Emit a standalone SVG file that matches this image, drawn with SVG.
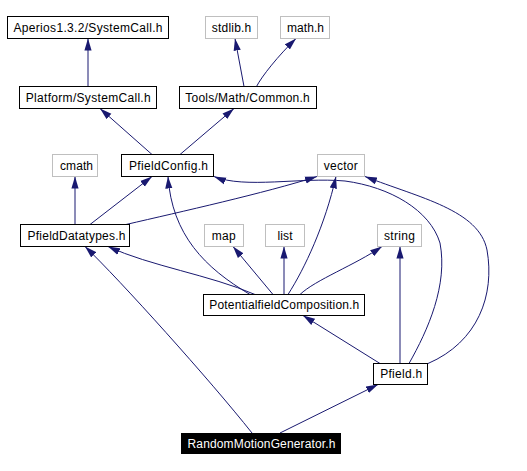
<svg xmlns="http://www.w3.org/2000/svg" width="527" height="471" viewBox="0 0 527 471">
<defs>
<marker id="arr" markerUnits="userSpaceOnUse" markerWidth="12" markerHeight="8" viewBox="0 0 12 8" refX="12" refY="4" orient="auto">
<path d="M0,0.4 L12,4 L0,7.6 z" fill="#191970"/>
</marker>
</defs>
<style>
.n rect{fill:#ffffff;stroke:#000000;stroke-width:1}
.g rect{fill:#ffffff;stroke:#bfbfbf;stroke-width:1}
.r rect{fill:#000000;stroke:#000000;stroke-width:1}
text{font-family:"Liberation Sans",Arial,Helvetica,sans-serif;font-size:12px;text-anchor:middle;fill:#000000}
.r text{fill:#ffffff}
#edges path{fill:none;stroke:#191970;stroke-width:1;marker-end:url(#arr)}
</style>
<rect width="527" height="471" fill="#ffffff"/>
<g id="edges">
<path d="M88,86.5 L88,38.5"/>
<path d="M244,86.5 L235,38.5"/>
<path d="M256.5,86.5 C262,76 278,56 296,38.5"/>
<path d="M152,154.5 L100,108.5"/>
<path d="M180,154.5 L234,108.5"/>
<path d="M75,224.5 L75,176.5"/>
<path d="M90,224.5 L152,176.5"/>
<path d="M126,224.5 C180,212 265,193 317,176.5"/>
<path d="M255,294.5 C210,275 150,266 108,246.5"/>
<path d="M250,294.5 C205,268 172,235 168,176.5"/>
<path d="M273,294.5 L233,246.5"/>
<path d="M284,294.5 L284,246.5"/>
<path d="M288,294.5 C305,268 325,225 336,176.5"/>
<path d="M300,294.5 C315,280 355,265 382,246.5"/>
<path d="M380,363.5 L303,315.5"/>
<path d="M400,363.5 L400,246.5"/>
<path d="M409,363.5 C428,330 448,285 440,243 C430,210 390,187 345,181 C300,177 245,189 214,176.5"/>
<path d="M428,363.5 C478,342 495,295 487,250 C479,210 420,198 365,176.5"/>
<path d="M252,433 C210,380 120,280 85,246.5"/>
<path d="M280,433 L378,384.5"/>
</g>
<g id="node-aperios" class="n"><rect x="7.5" y="16.5" width="161" height="22"/><text x="88" y="31.8" textLength="149" lengthAdjust="spacing">Aperios1.3.2/SystemCall.h</text></g>
<g id="node-stdlib" class="g"><rect x="205.5" y="16.5" width="52" height="22"/><text x="231.5" y="31.8" textLength="39.5" lengthAdjust="spacing">stdlib.h</text></g>
<g id="node-math" class="g"><rect x="280.5" y="16.5" width="49" height="22"/><text x="305.5" y="31.8" textLength="37" lengthAdjust="spacing">math.h</text></g>
<g id="node-platform" class="n"><rect x="19.5" y="86.5" width="137" height="22"/><text x="88.2" y="101.8" textLength="125" lengthAdjust="spacing">Platform/SystemCall.h</text></g>
<g id="node-tools" class="n"><rect x="179.5" y="86.5" width="137" height="22"/><text x="247.5" y="101.8" textLength="124.5" lengthAdjust="spacing">Tools/Math/Common.h</text></g>
<g id="node-cmath" class="g"><rect x="52.5" y="154.5" width="45" height="22"/><text x="76.5" y="169.8" textLength="33" lengthAdjust="spacing">cmath</text></g>
<g id="node-pfieldconfig" class="n"><rect x="121.5" y="154.5" width="92" height="22"/><text x="168.5" y="169.8" textLength="79" lengthAdjust="spacing">PfieldConfig.h</text></g>
<g id="node-vector" class="g"><rect x="317.5" y="154.5" width="47" height="22"/><text x="340.8" y="169.8" textLength="34" lengthAdjust="spacing">vector</text></g>
<g id="node-pfielddatatypes" class="n"><rect x="20.5" y="224.5" width="109" height="22"/><text x="76.5" y="239.8" textLength="98" lengthAdjust="spacing">PfieldDatatypes.h</text></g>
<g id="node-map" class="g"><rect x="204.5" y="224.5" width="39" height="22"/><text x="223.8" y="239.8" textLength="24" lengthAdjust="spacing">map</text></g>
<g id="node-list" class="g"><rect x="265.5" y="224.5" width="39" height="22"/><text x="285" y="239.8" textLength="15" lengthAdjust="spacing">list</text></g>
<g id="node-string" class="g"><rect x="377.5" y="224.5" width="44" height="22"/><text x="399.5" y="239.8" textLength="31" lengthAdjust="spacing">string</text></g>
<g id="node-potentialfield" class="n"><rect x="203.5" y="294.5" width="161" height="21"/><text x="284.3" y="309.3" textLength="150" lengthAdjust="spacing">PotentialfieldComposition.h</text></g>
<g id="node-pfield" class="n"><rect x="373.5" y="363.5" width="54" height="21"/><text x="401.2" y="378.3" textLength="42" lengthAdjust="spacing">Pfield.h</text></g>
<g id="node-random" class="r"><rect x="181.5" y="433.5" width="159" height="20"/><text x="261.5" y="447.8" textLength="148" lengthAdjust="spacing">RandomMotionGenerator.h</text></g>
</svg>
